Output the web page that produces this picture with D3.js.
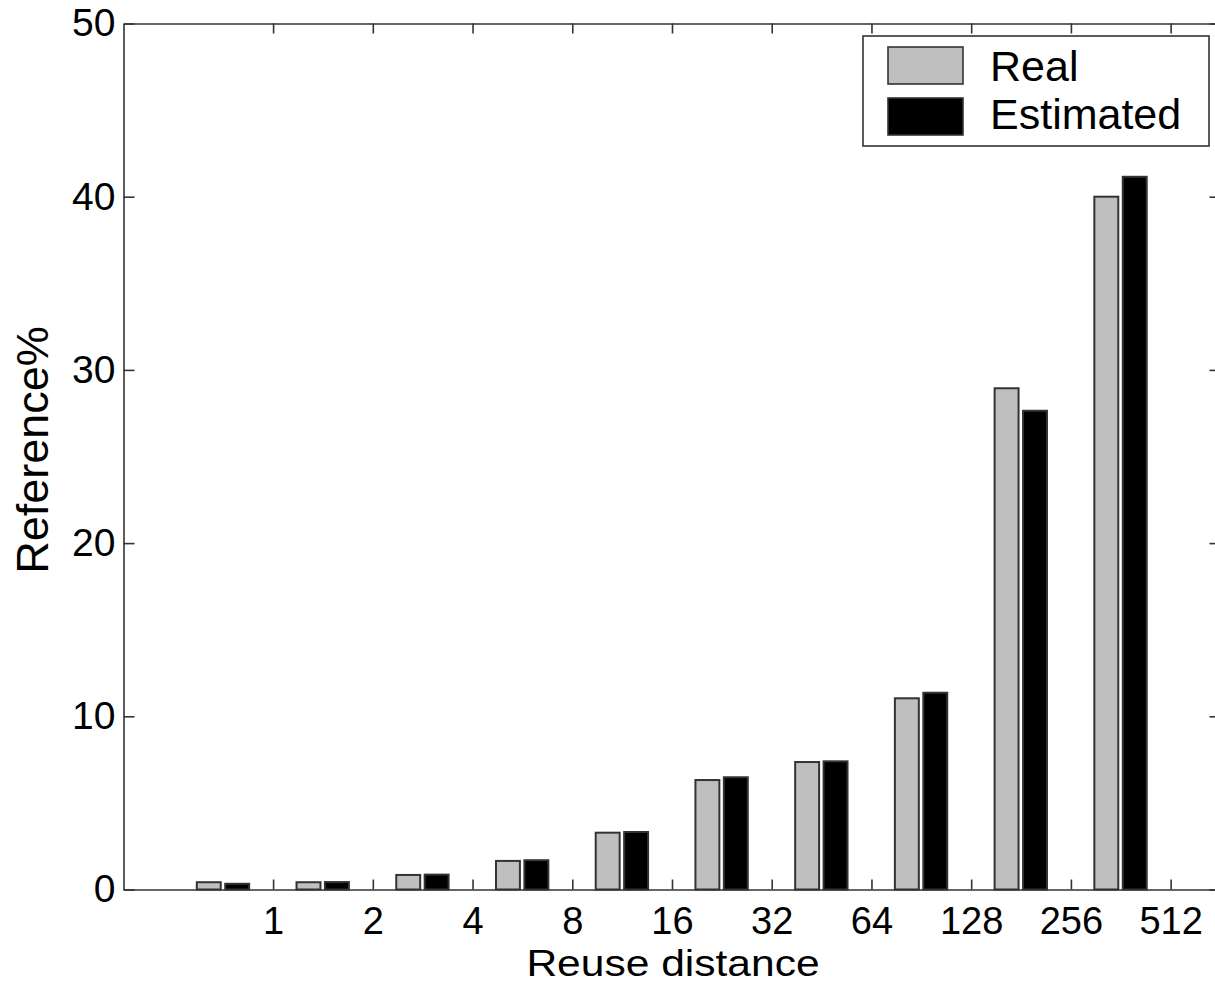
<!DOCTYPE html>
<html>
<head>
<meta charset="utf-8">
<script src="https://cdn.jsdelivr.net/npm/d3@7"></script>
<style>
  body { margin: 0; background: #fff; }
  svg { display: block; font-family: "Liberation Sans", Arial, Helvetica, sans-serif; }
  .axis path, .axis line { stroke: #333; stroke-width: 1.6; }
  .axis text { font-size: 39px; fill: #000; }
  .axis.x text { font-size: 38px; }
</style>
</head>
<body>
<div id="chart"></div>
<script>
// reuse distance bins (tick labels sit on the bin edges)
var distLabels = ["1", "2", "4", "8", "16", "32", "64", "128", "256", "512"];
var realPct = [0.42, 0.42, 0.84, 1.65, 3.28, 6.32, 7.36, 11.04, 28.94, 40.0];
var estPct = [0.33, 0.43, 0.86, 1.69, 3.32, 6.48, 7.40, 11.36, 27.64, 41.15];
var yTicks = [0, 10, 20, 30, 40, 50];
var seriesNames = ["Real", "Estimated"];
var seriesColors = ["#bfbfbf", "#000000"];

var W = 1215, H = 984;
var margin = {top: 23.5, left: 123.5, bottom: 94.5};

var svg = d3.select("#chart").append("svg")
    .attr("width", W)
    .attr("height", H);

var x = d3.scaleLinear().domain([-1, 10]).range([123.5, 1220.5]);
var y = d3.scaleLinear().domain([0, 50]).range([H - margin.bottom, margin.top]);

var barW = 0.24;
var offsets = [-0.265, 0.02];

// bars
var series = [realPct, estPct];
series.forEach(function(vals, s){
    svg.append("g").selectAll("rect")
        .data(vals)
        .enter().append("rect")
        .attr("x", function(d, i){ return x(i + offsets[s]); })
        .attr("width", x(barW) - x(0))
        .attr("y", function(d){ return y(d); })
        .attr("height", function(d){ return y(0) - y(d); })
        .attr("fill", seriesColors[s])
        .attr("stroke", "#333")
        .attr("stroke-width", 2);
});

var tickPos = distLabels.map(function(d, i){ return i + 0.5; });

// bottom axis
svg.append("g")
    .attr("class", "axis x")
    .attr("transform", "translate(0," + y(0) + ")")
    .call(d3.axisBottom(x)
        .tickValues(tickPos)
        .tickFormat(function(d, i){ return distLabels[i]; })
        .tickSizeInner(-10)
        .tickSizeOuter(0)
        .tickPadding(18));

// top axis
svg.append("g")
    .attr("class", "axis")
    .attr("transform", "translate(0," + y(50) + ")")
    .call(d3.axisTop(x)
        .tickValues(tickPos)
        .tickFormat("")
        .tickSizeInner(-10)
        .tickSizeOuter(0));

// left axis
svg.append("g")
    .attr("class", "axis")
    .attr("transform", "translate(" + x(-1) + ",0)")
    .call(d3.axisLeft(y)
        .tickValues(yTicks)
        .tickSizeInner(-11)
        .tickSizeOuter(0)
        .tickPadding(8));

// right axis
svg.append("g")
    .attr("class", "axis")
    .attr("transform", "translate(" + x(10) + ",0)")
    .call(d3.axisRight(y)
        .tickValues(yTicks)
        .tickFormat("")
        .tickSizeInner(-11)
        .tickSizeOuter(0));

// axis titles
svg.append("text")
    .attr("transform", "translate(673,976) scale(1.15,1)")
    .attr("text-anchor", "middle")
    .style("font-size", "37px")
    .text("Reuse distance");

svg.append("text")
    .attr("transform", "translate(48,450) rotate(-90)")
    .attr("text-anchor", "middle")
    .style("font-size", "45px")
    .text("Reference%");

// legend
var leg = svg.append("g");
leg.append("rect")
    .attr("x", 863).attr("y", 36)
    .attr("width", 346).attr("height", 110)
    .attr("fill", "#fff")
    .attr("stroke", "#333")
    .attr("stroke-width", 1.6);

seriesNames.forEach(function(name, i){
    leg.append("rect")
        .attr("x", 888).attr("y", 47 + i * 51)
        .attr("width", 75).attr("height", 37)
        .attr("fill", seriesColors[i])
        .attr("stroke", "#333")
        .attr("stroke-width", 1.6);
    leg.append("text")
        .attr("x", 990).attr("y", 81 + i * 48)
        .style("font-size", "43px")
        .text(name);
});
</script>
</body>
</html>
